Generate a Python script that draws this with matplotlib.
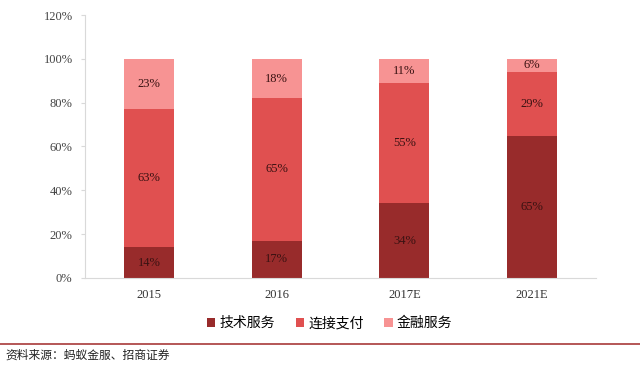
import matplotlib.pyplot as plt
from matplotlib.patches import Patch
from matplotlib.lines import Line2D

years = ["2015", "2016", "2017E", "2021E"]
tech = [14, 17, 34, 65]
pay = [63, 65, 55, 29]
fin = [23, 18, 11, 6]
series_names = ["技术服务", "连接支付", "金融服务"]
source = "资料来源：蚂蚁金服、招商证券"

colors = ["#982b2b", "#e05050", "#f79393"]
serif = ["Liberation Serif", "DejaVu Serif"]
cjk = ["Noto Sans CJK SC", "DejaVu Sans"]

fig = plt.figure(figsize=(6.4, 3.68), dpi=100)
ax = fig.add_axes([0.133, 0.245, 0.798, 0.714])

x = range(len(years))
bottom = [0] * len(years)
for i, vals in enumerate([tech, pay, fin]):
    ax.bar(x, vals, width=0.39, bottom=bottom, color=colors[i], label=series_names[i])
    for j, v in enumerate(vals):
        ax.text(j, bottom[j] + v / 2, f"{v}%", ha="center", va="center",
                fontsize=9, color="#3a1212", family=serif)
    bottom = [b + v for b, v in zip(bottom, vals)]

ax.set_xlim(-0.5, 3.5)
ax.set_ylim(0, 120)
ax.set_yticks(range(0, 121, 20))
ax.set_yticklabels([f"{t}%" for t in range(0, 121, 20)], family=serif, fontsize=9, color="#444444")
ax.set_xticks(list(x))
ax.set_xticklabels(years, family=serif, fontsize=9, color="#333333")
for s in ["top", "right"]:
    ax.spines[s].set_visible(False)
ax.spines["left"].set_color("#d9d9d9")
ax.spines["bottom"].set_color("#d9d9d9")
ax.tick_params(axis="y", length=3, color="#d9d9d9", pad=6)
ax.tick_params(axis="x", length=0, pad=8)

handles = [Patch(facecolor=c) for c in colors]
fig.legend(handles, series_names, loc="center", bbox_to_anchor=(0.515, 0.122), ncol=3,
           frameon=False, prop={"family": cjk, "size": 10}, handlelength=0.6,
           handleheight=0.6, handletextpad=0.3, columnspacing=1.5)

fig.add_artist(Line2D([0, 1], [0.065, 0.065], color="#a83a3a", lw=1.2, transform=fig.transFigure))
fig.text(0.008, 0.035, source, fontsize=8.5, family=cjk, va="center", color="#222222")

fig.savefig("out.png", dpi=100)
